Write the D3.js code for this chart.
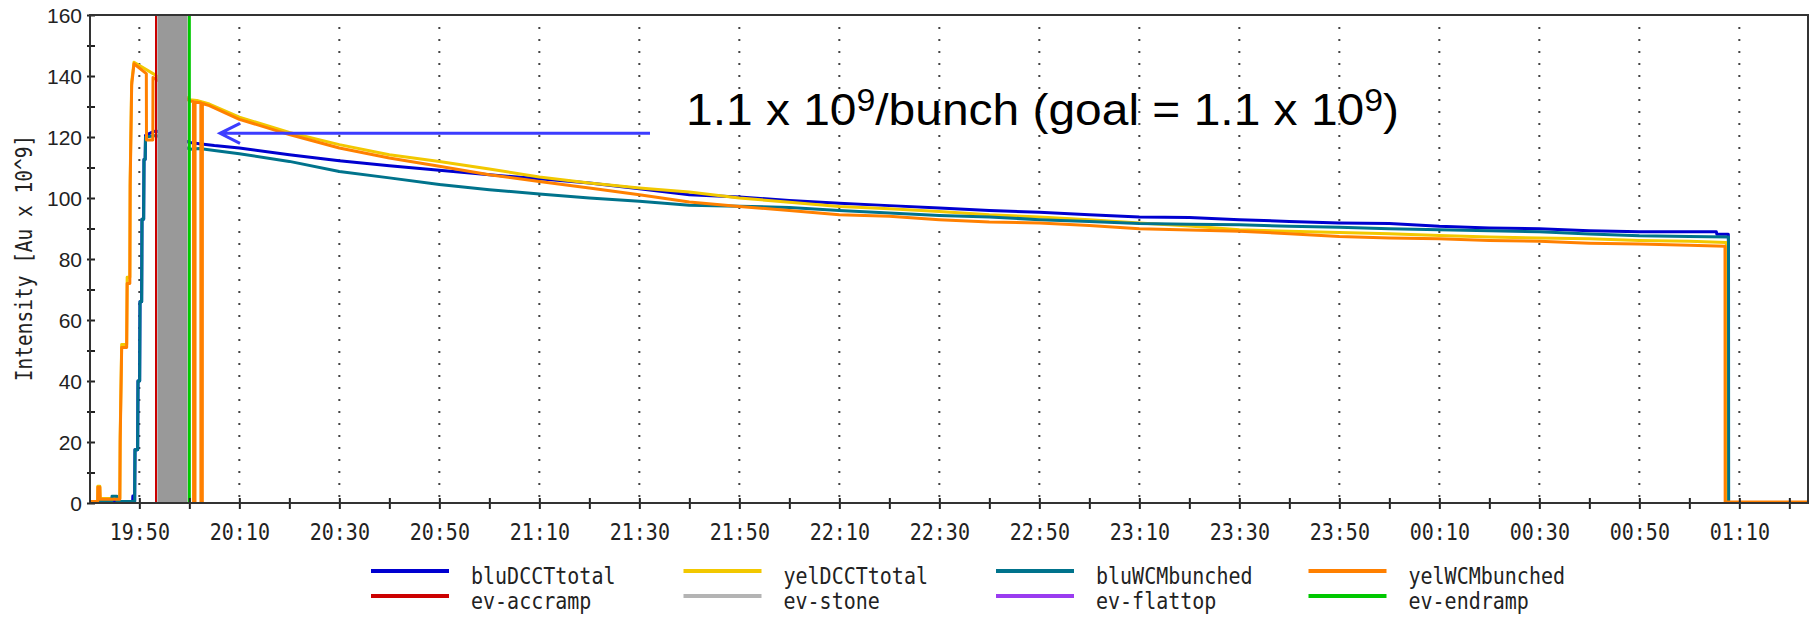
<!DOCTYPE html>
<html>
<head>
  <meta charset="utf-8">
  <title>Intensity vs time</title>
  <style>
    body { margin: 0; background: #fff; }
    svg { display: block; }
    .mono { font-family: "DejaVu Sans Mono", monospace; font-size: 20px; fill: #222; }
  </style>
</head>
<body>
  <svg width="1820" height="623"></svg>
  <script src="https://cdn.jsdelivr.net/npm/d3@7"></script>
  <script>
  // 1. data (values in Au x 10^9)
  var decayTimes = ["20:10", "20:20", "20:30", "20:40", "20:50", "21:00", "21:10", "21:20", "21:30", "21:40",
    "21:50", "22:00", "22:10", "22:20", "22:30", "22:40", "22:50", "23:00", "23:10", "23:20",
    "23:30", "23:40", "23:50", "00:00", "00:10", "00:20", "00:30", "00:40", "00:50", "01:00"];

  var bluDCCTdecay = [116.4, 114.2, 112.2, 110.6, 109.1, 107.6, 106.3, 104.9, 103.0, 101.1,
    100.3, 99.2, 98.3, 97.5, 96.7, 95.9, 95.3, 94.5, 93.8, 93.6,
    92.9, 92.3, 91.8, 91.6, 90.7, 90.2, 89.9, 89.3, 88.9, 88.9];
  var yelDCCTdecay = [126.5, 121.5, 117.5, 114.2, 112.0, 109.5, 106.9, 104.9, 103.3, 102.0,
    100.0, 98.6, 97.2, 96.5, 95.6, 94.5, 93.8, 92.9, 91.8, 90.8,
    89.6, 89.1, 88.7, 88.3, 87.7, 87.2, 86.9, 86.6, 86.1, 85.8];
  var bluWCMdecay = [114.5, 112.0, 108.7, 106.6, 104.4, 102.7, 101.3, 100.0, 98.9, 97.6,
    97.3, 96.9, 95.9, 95.1, 94.3, 93.8, 92.9, 92.3, 91.6, 91.4,
    91.2, 90.7, 90.4, 89.9, 89.6, 89.3, 88.9, 88.2, 87.6, 87.4];
  var yelWCMdecay = [125.8, 120.8, 116.4, 113.1, 110.4, 107.6, 105.4, 103.3, 101.1, 98.7,
    97.2, 95.9, 94.5, 94.0, 92.9, 92.1, 91.8, 91.0, 89.9, 89.5,
    89.1, 88.3, 87.4, 86.9, 86.6, 86.1, 85.8, 85.2, 84.9, 84.5];

  // injection / ramp part, [time, value]
  var bluDCCTstart = [["19:40:08", 0.5], ["19:48:40", 0.5], ["19:48:42", 2.3], ["19:48:50", 2.3], ["19:48:52", 0.5],
    ["19:49:04", 0.5], ["19:49:08", 17.5], ["19:49:40", 17.5], ["19:49:44", 40], ["19:50:04", 40],
    ["19:50:08", 66], ["19:50:28", 66], ["19:50:32", 93], ["19:50:52", 93], ["19:50:56", 112.6],
    ["19:51:10", 112.6], ["19:51:14", 120.5], ["19:52:30", 121.5], ["19:53:20", 122],
    ["20:00:06", 118.2], ["20:02:00", 117.8], ["20:05:00", 117.2]];
  var yelDCCTstart = [["19:40:08", 0.5], ["19:41:40", 0.5], ["19:41:42", 5.5], ["19:42:06", 5.5], ["19:42:10", 1.5],
    ["19:46:06", 1.5], ["19:46:10", 22], ["19:46:28", 52], ["19:47:28", 52], ["19:47:34", 74],
    ["19:48:06", 74], ["19:48:10", 106], ["19:48:28", 138], ["19:48:56", 144.5], ["19:53:20", 140.2],
    ["20:00:06", 132.2], ["20:01:30", 132], ["20:04:00", 130.8]];
  var bluWCMstart = [["19:40:08", 0.5], ["19:44:30", 0.5], ["19:44:32", 2.2], ["19:45:30", 2.2], ["19:45:32", 0.5],
    ["19:49:04", 0.5], ["19:49:08", 17.5], ["19:49:40", 17.5], ["19:49:44", 40], ["19:50:04", 40],
    ["19:50:08", 66], ["19:50:28", 66], ["19:50:32", 93], ["19:50:52", 93], ["19:50:56", 112.6],
    ["19:51:10", 112.6], ["19:51:14", 120], ["19:53:20", 120.5],
    ["20:00:06", 116], ["20:02:00", 116.2], ["20:05:00", 115.6]];
  var yelWCMstart = [["19:40:08", 0.5], ["19:41:40", 0.5], ["19:41:42", 5.2], ["19:42:06", 5.2], ["19:42:10", 1.2],
    ["19:46:06", 1.2], ["19:46:10", 20], ["19:46:28", 51], ["19:47:28", 51], ["19:47:34", 72],
    ["19:48:06", 72], ["19:48:10", 104], ["19:48:28", 137], ["19:48:56", 144], ["19:51:24", 140.8],
    ["19:51:26", 119], ["19:52:42", 119], ["19:52:44", 139.5], ["19:53:20", 139],
    ["20:00:06", 131.8], ["20:00:50", 131.6], ["20:00:51", 0], ["20:01:08", 0], ["20:01:09", 131.4],
    ["20:02:18", 131.2], ["20:02:19", 0], ["20:02:36", 0], ["20:02:37", 131], ["20:04:00", 130.3]];

  // beam dump
  var bluDCCTend = [["01:05:24", 88.9], ["01:05:30", 88.1], ["01:07:48", 88.1], ["01:07:50", 0]];
  var yelDCCTend = [["01:07:24", 85.4], ["01:07:26", 0]];
  var bluWCMend = [["01:07:50", 87.2], ["01:07:52", 0]];
  var yelWCMend = [["01:07:08", 84.2], ["01:07:10", 0.3], ["01:23:44", 0.3]];

  // events
  var evAccramp = ["19:53:20"];
  var evStone = ["19:53:36", "19:59:38"];
  var evEndramp = ["20:00:00"];

  var legendNames = ["bluDCCTtotal", "yelDCCTtotal", "bluWCMbunched", "yelWCMbunched",
    "ev-accramp", "ev-stone", "ev-flattop", "ev-endramp"];
  var legendColors = ["#0000d0", "#f2c800", "#00738c", "#ff8000",
    "#cc0000", "#b4b4b4", "#9a3cf0", "#00c800"];

  var yTicks = d3.range(0, 161, 10);

  // 2. helpers
  var parseTime = d3.timeParse("%Y-%m-%d %H:%M:%S");
  function T(s) {
    if (s.length === 5) s += ":00";
    var h = +s.slice(0, 2);
    return parseTime((h < 12 ? "2000-01-02 " : "2000-01-01 ") + s);
  }
  function build(start, decay, end) {
    return start.map(function(p) { return {t: T(p[0]), v: p[1]}; })
      .concat(decay.map(function(v, i) { return {t: T(decayTimes[i]), v: v}; }))
      .concat(end.map(function(p) { return {t: T(p[0]), v: p[1]}; }));
  }

  var series = [
    {name: "bluDCCTtotal", color: legendColors[0], pts: build(bluDCCTstart, bluDCCTdecay, bluDCCTend)},
    {name: "yelDCCTtotal", color: legendColors[1], pts: build(yelDCCTstart, yelDCCTdecay, yelDCCTend)},
    {name: "bluWCMbunched", color: legendColors[2], pts: build(bluWCMstart, bluWCMdecay, bluWCMend)},
    {name: "yelWCMbunched", color: legendColors[3], pts: build(yelWCMstart, yelWCMdecay, yelWCMend)}
  ];

  // 3. scales
  var pL = 90, pR = 1808, pT = 15, pB = 503;
  var x = d3.scaleTime().domain([T("19:40:08"), T("01:23:44")]).range([pL, pR]);
  var y = d3.scaleLinear().domain([0, 160]).range([pB, pT]);

  var svg = d3.select("svg");

  svg.append("clipPath").attr("id", "plot")
    .append("rect").attr("x", pL).attr("y", pT).attr("width", pR - pL).attr("height", pB - pT);

  // 4. dotted grid at labelled ticks
  var xTicks = d3.timeMinute.every(10).range(T("19:50"), T("01:21"));
  var xMajor = xTicks.filter(function(d) { return d.getMinutes() % 20 === 10; });

  svg.append("g").selectAll("line")
    .data(xMajor)
    .enter().append("line")
    .attr("x1", function(d) { return x(d); })
    .attr("x2", function(d) { return x(d); })
    .attr("y1", pT + 12)
    .attr("y2", pB)
    .attr("stroke", "#444")
    .attr("stroke-width", 2)
    .attr("stroke-dasharray", "2 10");

  // 5. series
  var line = d3.line()
    .x(function(d) { return x(d.t); })
    .y(function(d) { return y(d.v); });

  svg.append("g").attr("clip-path", "url(#plot)")
    .selectAll("path")
    .data(series)
    .enter().append("path")
    .attr("d", function(d) { return line(d.pts); })
    .attr("fill", "none")
    .attr("stroke", function(d) { return d.color; })
    .attr("stroke-width", 3)
    .attr("stroke-linejoin", "round");

  // 6. events
  svg.append("rect")
    .attr("x", x(T(evStone[0])))
    .attr("width", x(T(evStone[1])) - x(T(evStone[0])))
    .attr("y", pT)
    .attr("height", pB - pT)
    .attr("fill", "#999");

  svg.append("g").selectAll("line")
    .data(evAccramp)
    .enter().append("line")
    .attr("x1", function(d) { return x(T(d)); })
    .attr("x2", function(d) { return x(T(d)); })
    .attr("y1", pT).attr("y2", pB)
    .attr("stroke", legendColors[4]).attr("stroke-width", 2);

  svg.append("g").selectAll("line")
    .data(evEndramp)
    .enter().append("line")
    .attr("x1", function(d) { return x(T(d)); })
    .attr("x2", function(d) { return x(T(d)); })
    .attr("y1", pT).attr("y2", pB)
    .attr("stroke", legendColors[7]).attr("stroke-width", 3);

  // 7. axes
  var fmt = d3.timeFormat("%H:%M");
  var gx = svg.append("g")
    .attr("transform", "translate(0," + pB + ")")
    .call(d3.axisBottom(x)
      .tickValues(xTicks)
      .tickSize(6)
      .tickFormat(function(d) { return d.getMinutes() % 20 === 10 ? fmt(d) : ""; }));
  gx.select(".domain").remove();
  gx.selectAll(".tick line").attr("y1", -5).attr("y2", 6).attr("stroke", "#222").attr("stroke-width", 2);
  gx.selectAll(".tick text")
    .attr("class", "mono")
    .attr("y", 0).attr("dy", 0)
    .attr("transform", "translate(0,37) scale(1,1.15)");

  var gy = svg.append("g")
    .attr("transform", "translate(" + pL + ",0)")
    .call(d3.axisLeft(y)
      .tickValues(yTicks)
      .tickSize(3)
      .tickFormat(function(d) { return d % 20 === 0 ? d : ""; }));
  gy.select(".domain").remove();
  gy.selectAll(".tick line").attr("x1", -3).attr("x2", 5).attr("stroke", "#222").attr("stroke-width", 2);
  gy.selectAll(".tick text")
    .attr("x", -8)
    .attr("dy", "0.36em")
    .attr("fill", "#222")
    .style("font-family", "'Liberation Sans', Arial, sans-serif")
    .style("font-size", "21px");

  // frame
  svg.append("path")
    .attr("d", "M" + pL + "," + pB + "V" + pT + "H" + pR + "V" + pB + "H" + pL)
    .attr("fill", "none")
    .attr("stroke", "#333")
    .attr("stroke-width", 2);

  svg.append("text")
    .attr("class", "mono")
    .attr("text-anchor", "middle")
    .attr("dominant-baseline", "central")
    .attr("transform", "translate(24,258) rotate(-90) scale(1,1.15)")
    .style("font-size", "19.5px")
    .text("Intensity [Au x 10^9]");

  // 8. annotation
  var arrowY = y(121.2);
  var tipX = x(T("20:06:08")), tailX = x(T("21:32:08"));
  svg.append("path")
    .attr("d", "M" + tailX + "," + arrowY + "H" + tipX +
      "M" + (tipX + 20) + "," + (arrowY - 10) + "L" + tipX + "," + arrowY + "L" + (tipX + 20) + "," + (arrowY + 10))
    .attr("fill", "none")
    .attr("stroke", "#3c3cff")
    .attr("stroke-width", 3);

  var note = svg.append("text")
    .attr("x", 0).attr("y", 0)
    .style("font-family", "'Liberation Sans', Arial, sans-serif")
    .style("font-size", "44px")
    .attr("fill", "#000");
  note.append("tspan").text("1.1 x 10");
  note.append("tspan").attr("dy", -14).style("font-size", "31px").text("9");
  note.append("tspan").attr("dy", 14).text("/bunch (goal = 1.1 x 10");
  note.append("tspan").attr("dy", -14).style("font-size", "31px").text("9");
  note.append("tspan").attr("dy", 14).text(")");
  var nw = note.node().getComputedTextLength();
  note.attr("transform", "translate(686,125) scale(" + (713 / nw) + ",1)");

  // 9. legend
  var legend = svg.append("g").selectAll("g")
    .data(legendNames)
    .enter().append("g")
    .attr("transform", function(d, i) {
      return "translate(" + (371 + (i % 4) * 312.5) + "," + (i < 4 ? 571 : 596) + ")";
    });
  legend.append("line")
    .attr("x1", 0).attr("x2", 78)
    .attr("stroke", function(d, i) { return legendColors[i]; })
    .attr("stroke-width", 4);
  legend.append("text")
    .attr("class", "mono")
    .attr("dominant-baseline", "central")
    .attr("transform", "translate(100,5) scale(1,1.15)")
    .text(function(d) { return d; });
  </script>
</body>
</html>
